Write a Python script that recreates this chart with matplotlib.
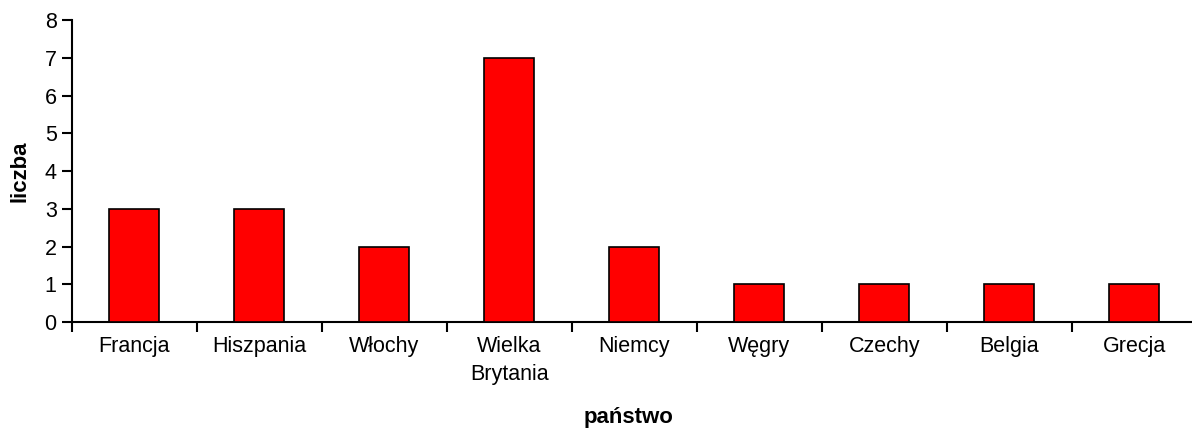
import matplotlib
matplotlib.use("Agg")
import matplotlib.pyplot as plt
import numpy as np

plt.rcParams['font.family'] = ['Liberation Sans', 'DejaVu Sans']

kraje = ["Francja", "Hiszpania", "Włochy", "Wielka\nBrytania", "Niemcy",
         "Węgry", "Czechy", "Belgia", "Grecja"]
liczba = [3, 3, 2, 7, 2, 1, 1, 1, 1]
yticks = [0, 1, 2, 3, 4, 5, 6, 7, 8]

fig = plt.figure(figsize=(11.92, 4.30), dpi=100)
ax = fig.add_axes([0.0604, 0.251, 0.9436, 0.7025])

x = np.arange(len(kraje))
ax.bar(x, liczba, width=0.4, color="#ff0000", edgecolor="black", linewidth=1.2, zorder=3)

ax.set_xlim(-0.5, len(kraje) - 0.5)
ax.set_ylim(0, 8)
ax.set_yticks(yticks)
ax.set_xticks(x)
ax.set_xticklabels(kraje, linespacing=1.45)
ax.tick_params(axis="x", length=0, pad=10, labelsize=15.5)
# ticks between categories
ax.set_xticks(np.arange(len(kraje) + 1) - 0.5, minor=True)
ax.tick_params(axis="x", which="minor", length=7, width=1.5, direction="out")
ax.tick_params(axis="y", length=7, width=1.5, direction="out", labelsize=15.5, pad=4)

for s in ["top", "right"]:
    ax.spines[s].set_visible(False)
for s in ["left", "bottom"]:
    ax.spines[s].set_linewidth(1.5)

ax.set_ylabel("liczba", fontsize=16, fontweight="bold")
ax.yaxis.set_label_coords(-0.037, 0.5)
ax.set_xlabel("państwo", fontsize=16, fontweight="bold")
ax.xaxis.set_label_coords(0.495, -0.28)

fig.savefig("out.png", dpi=100)
